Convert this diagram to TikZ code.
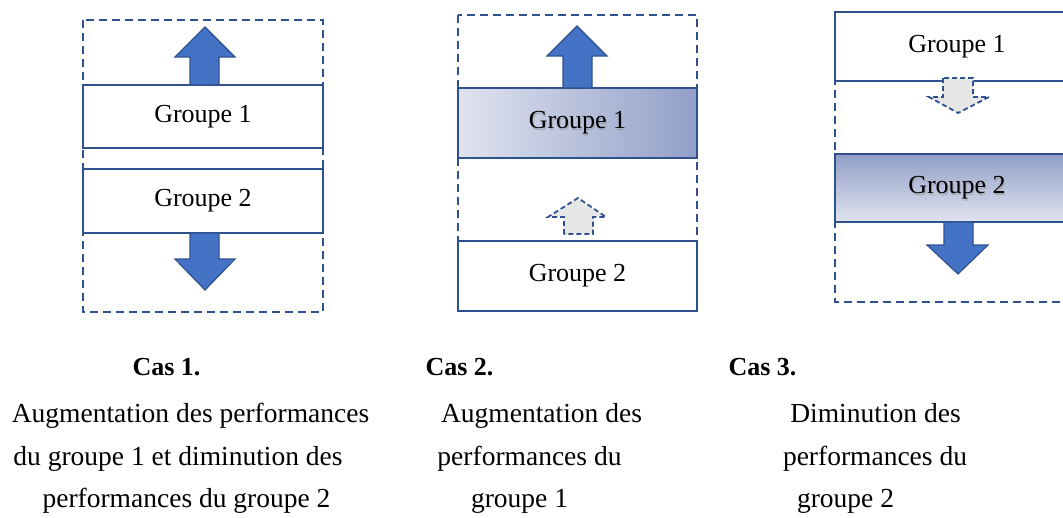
\documentclass[tikz,border=0pt]{standalone}
\usepackage{fontspec}
\setmainfont{Liberation Serif}
\definecolor{lineblue}{HTML}{2F528F}
\definecolor{arrowblue}{HTML}{4472C4}
\definecolor{ghost}{HTML}{E7E6E6}
\definecolor{gradlight}{HTML}{E0E3EF}
\definecolor{graddark}{HTML}{919FC8}
\begin{document}
\begin{tikzpicture}[x=1pt,y=-1pt,
  txt/.style={font=\fontsize{26}{31}\selectfont, inner sep=0pt},
  captxt/.style={inner sep=0pt, anchor=base, font=\fontsize{27.5}{32}\selectfont},
  cashead/.style={inner sep=0pt, anchor=base, font=\fontsize{26}{31}\selectfont\bfseries},
  outerbox/.style={draw=lineblue, line width=1.8pt, dash pattern=on 8pt off 5pt},
  gbox/.style={draw=lineblue, line width=1.8pt, fill=white, rectangle, minimum width=240pt, inner sep=0pt, font=\fontsize{26}{31}\selectfont},
  solidarrow/.style={draw=lineblue, line width=1.2pt, fill=arrowblue, line join=miter},
  ghostarrow/.style={draw=lineblue, line width=1.8pt, fill=ghost, dash pattern=on 5pt off 3pt},
  shadowtxt/.style={font=\fontsize{26}{31}\selectfont, text=black!45, opacity=0.5, inner sep=0pt}
]
\useasboundingbox (0,0) rectangle (1063,517);
\clip (0,0) rectangle (1063,517);

% ---------- Cas 1 ----------
\draw[outerbox] (83,20) rectangle (323,312);
\node[gbox, minimum height=63pt] (c1g1) at (203,116.5) {Groupe 1};
\node[gbox, minimum height=64pt] (c1g2) at (203,201) {Groupe 2};
\draw[solidarrow] (190,85) -- (190,57) -- (175,57) -- (205,27) -- (235,57) -- (219,57) -- (219,85) -- cycle;
\draw[solidarrow] (190,233) -- (190,259) -- (175,259) -- (205,290) -- (235,259) -- (219,259) -- (219,233) -- cycle;

% ---------- Cas 2 ----------
\draw[outerbox] (458,15) rectangle (697,311);
\node[gbox, minimum width=239pt, minimum height=70pt, left color=gradlight, right color=graddark] (c2g1) at (577.5,123) {};
\node[shadowtxt] at (578.5,124.5) {Groupe 1};
\node[txt] at (577.5,123) {Groupe 1};
\node[gbox, minimum width=239pt, minimum height=70pt] (c2g2) at (577.5,276) {Groupe 2};
\draw[solidarrow] (563,88) -- (563,56) -- (547,56) -- (577,26) -- (607,56) -- (592,56) -- (592,88) -- cycle;
\draw[ghostarrow] (564,234) -- (564,217) -- (548,217) -- (578,198) -- (606,217) -- (593,217) -- (593,234) -- cycle;

% ---------- Cas 3 ----------
\draw[outerbox] (835,12) rectangle (1079,302);
\node[gbox, minimum width=244pt, minimum height=69pt] (c3g1) at (957,46.5) {Groupe 1};
\node[gbox, minimum width=244pt, minimum height=68pt, top color=graddark, bottom color=gradlight] (c3g2) at (957,188) {};
\node[shadowtxt] at (958,189.5) {Groupe 2};
\node[txt] at (957,188) {Groupe 2};
\draw[ghostarrow] (943,78) -- (943,97) -- (929,97) -- (958,113) -- (989,97) -- (973,97) -- (973,78) -- cycle;
\draw[solidarrow] (944,222) -- (944,245) -- (927,245) -- (958,274) -- (988,245) -- (973,245) -- (973,222) -- cycle;

% ---------- Captions ----------
\node[cashead] (h1) at (166.5,375) {Cas 1.};
\node[cashead] (h2) at (459.5,375) {Cas 2.};
\node[cashead] (h3) at (762.5,375) {Cas 3.};

\node[captxt] (t11) at (190.5,422) {Augmentation des performances};
\node[captxt] (t12) at (178,465) {du groupe 1 et diminution des};
\node[captxt] (t13) at (186.5,507) {performances du groupe 2};

\node[captxt] (t21) at (541.5,422) {Augmentation des};
\node[captxt] (t22) at (529.5,465) {performances du};
\node[captxt] (t23) at (519.5,507) {groupe 1};

\node[captxt] (t31) at (875.5,422) {Diminution des};
\node[captxt] (t32) at (875,465) {performances du};
\node[captxt] (t33) at (845.5,507) {groupe 2};
\end{tikzpicture}
\end{document}
